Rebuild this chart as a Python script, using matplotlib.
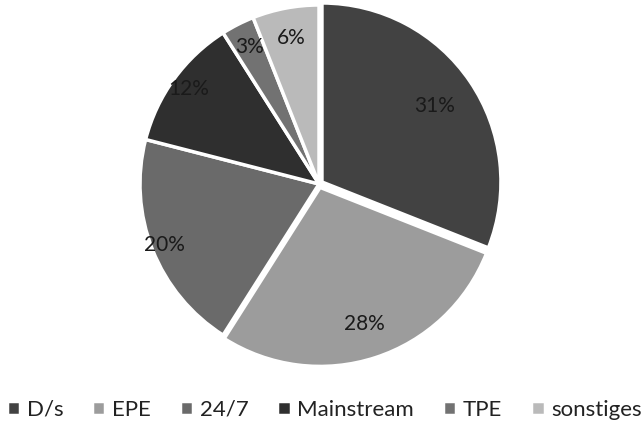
import numpy as np
import matplotlib.pyplot as plt

plt.rcParams['font.family'] = ['Lato', 'DejaVu Sans']

# Daten
kategorien = ['D/s', 'EPE', '24/7', 'Mainstream', 'TPE', 'sonstiges']
anteile = [31, 28, 20, 12, 3, 6]
farben = ['#424242', '#9c9c9c', '#6a6a6a', '#2f2f2f', '#727272', '#bababa']
label_abstand = [0.76, 0.80, 0.93, 0.90, 0.86, 0.83]

fig = plt.figure(figsize=(6.42, 4.26), dpi=100)
W, H = 642, 426
r_px = 179
lim = 1.06
cx, cy = 319, 184
size = 2 * r_px * lim
ax = fig.add_axes([(cx - size / 2) / W, 1 - (cy + size / 2) / H, size / W, size / H])

wedges, texts, autotexts = ax.pie(
    anteile, colors=farben, startangle=90, counterclock=False,
    explode=[0.02, 0.02, 0, 0, 0, 0],
    autopct='%d%%', pctdistance=0.8,
    wedgeprops=dict(edgecolor='white', linewidth=2.5),
    textprops=dict(fontsize=15, color='#1a1a1a'))

# Beschriftungen etwas verschieben
for w, t, d in zip(wedges, autotexts, label_abstand):
    ang = np.deg2rad((w.theta1 + w.theta2) / 2)
    cx0, cy0 = w.center
    t.set_position((cx0 + d * np.cos(ang), cy0 + d * np.sin(ang)))

ax.set_xlim(-lim, lim)
ax.set_ylim(-lim, lim)
ax.set_aspect('equal')
ax.axis('off')

fig.legend(wedges, kategorien, loc='center', bbox_to_anchor=(0.505, 1 - 410 / H),
           ncol=6, frameon=False, fontsize=16, handlelength=0.6, handleheight=0.6,
           handletextpad=0.3, columnspacing=1.3, labelcolor='#222222')

fig.savefig('out.png', dpi=100)
